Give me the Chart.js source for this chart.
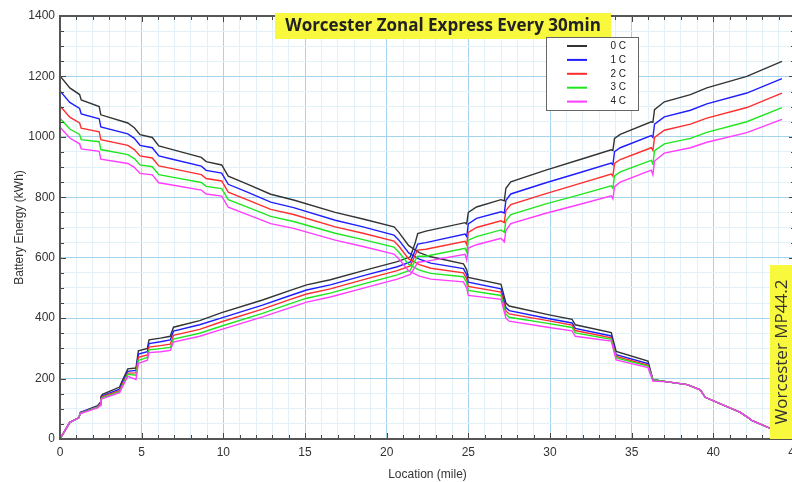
<!DOCTYPE html>
<html>
<head>
<meta charset="utf-8">
<script src="https://cdn.jsdelivr.net/npm/chart.js@4.4.1/dist/chart.umd.min.js"></script>
<style>
  html, body { margin: 0; padding: 0; background: #fff; overflow: hidden; }
  #wrap { width: 792px; height: 482px; overflow: hidden; position: relative; }
  #wrap canvas { position: absolute; left: 0; top: 0; }
</style>
</head>
<body>
<div id="wrap"><canvas id="chart" width="810" height="482"></canvas></div>
<script>
// miles for the outbound runs (energy going down)
const downMiles = [0, 0.6, 1.2, 1.3, 2.4, 2.5, 4.15, 4.55, 4.9, 5.65, 6.05, 6.95, 8.65, 8.95, 9.9, 10.3, 11.4, 12.9, 14.3, 16.85,
  18.55, 20.45, 20.75, 21.35, 22.0, 22.7, 24.7, 24.9, 25.0, 27.0, 27.3, 27.5, 29.95, 31.35, 31.55, 33.75, 34.05, 36.0, 36.3, 37.2,
  38.4, 39.2, 39.5, 41.65, 42.15, 42.35, 43.45, 44.2];
const down0C = [1202, 1162, 1140, 1122, 1100, 1073, 1046, 1030, 1007, 998, 970, 957, 932, 918, 907, 870, 845, 810, 791, 750,
  728, 702, 684, 640, 617, 603, 580, 560, 535, 512, 450, 440, 411, 396, 378, 352, 290, 258, 196, 189,
  180, 163, 138, 88, 70, 62, 36, 18];
const down1C = [1152, 1114, 1094, 1076, 1060, 1033, 1010, 995, 972, 964, 937, 925, 903, 889, 880, 843, 819, 784, 766, 724,
  702, 675, 658, 616, 595, 582, 564, 544, 519, 497, 435, 425, 398, 384, 366, 341, 279, 250, 196, 189,
  180, 163, 138, 88, 70, 62, 36, 18];
const down2C = [1102, 1065, 1046, 1029, 1017, 991, 972, 958, 937, 930, 904, 894, 875, 862, 854, 817, 793, 760, 743, 702,
  681, 655, 638, 596, 577, 565, 550, 530, 505, 486, 424, 414, 391, 377, 359, 335, 273, 245, 196, 189,
  180, 163, 138, 88, 70, 62, 36, 18];
const down3C = [1062, 1026, 1008, 991, 984, 958, 941, 928, 907, 901, 875, 866, 849, 836, 829, 792, 769, 737, 720, 681,
  660, 635, 618, 578, 559, 548, 537, 517, 492, 475, 413, 403, 382, 369, 351, 330, 268, 241, 196, 189,
  180, 163, 138, 88, 70, 62, 36, 18];
const down4C = [1032, 996, 977, 960, 952, 926, 912, 899, 879, 874, 848, 840, 824, 811, 804, 767, 744, 713, 697, 658,
  637, 612, 596, 556, 539, 529, 520, 500, 475, 462, 400, 390, 369, 358, 340, 324, 262, 236, 192, 189,
  180, 163, 138, 88, 70, 62, 36, 18];

// miles for the return runs (energy going up)
const upMiles = [0, 0.6, 1.15, 1.25, 2.3, 2.45, 2.5, 2.6, 3.65, 3.75, 4.15, 4.65, 4.8, 5.35, 5.45, 6.15, 6.75, 6.95, 8.55, 9.9,
  12.4, 14.1, 15.1, 16.55, 18.75, 20.65, 21.45, 21.75, 21.9, 22.4, 24.8, 24.9, 25.0, 25.5, 27.0, 27.2, 27.3, 27.6, 29.75, 31.85,
  33.75, 33.85, 33.95, 34.3, 36.2, 36.3, 36.4, 37.0, 38.6, 39.6, 42.05, 44.2];
const up0C = [0, 55, 70, 88, 110, 120, 140, 148, 172, 185, 232, 235, 292, 300, 328, 334, 340, 370, 392, 418,
  460, 492, 510, 527, 560, 587, 603, 650, 680, 688, 716, 712, 750, 768, 792, 788, 830, 851, 890, 925,
  957, 955, 995, 1008, 1050, 1048, 1090, 1116, 1140, 1162, 1200, 1250];
const up1C = [0, 55, 70, 88, 108, 117, 136, 143, 165, 178, 224, 227, 281, 289, 316, 322, 328, 357, 378, 401,
  443, 475, 493, 510, 543, 570, 586, 625, 645, 650, 678, 670, 712, 730, 752, 748, 790, 811, 848, 882,
  913, 908, 951, 964, 1004, 998, 1042, 1066, 1088, 1109, 1145, 1193];
const up2C = [0, 55, 70, 86, 106, 115, 133, 140, 160, 173, 218, 219, 270, 278, 304, 309, 314, 343, 363, 388,
  430, 462, 480, 497, 530, 557, 573, 610, 625, 628, 654, 644, 684, 700, 722, 716, 756, 776, 812, 846,
  877, 870, 912, 925, 964, 955, 998, 1022, 1042, 1062, 1097, 1145];
const up3C = [0, 55, 70, 85, 105, 113, 131, 137, 157, 169, 214, 211, 260, 270, 295, 299, 303, 331, 350, 374,
  416, 448, 466, 483, 516, 543, 559, 592, 605, 605, 631, 619, 658, 670, 692, 684, 722, 743, 778, 809,
  838, 830, 871, 884, 922, 910, 954, 977, 995, 1015, 1050, 1097];
const up4C = [0, 55, 70, 84, 103, 110, 128, 134, 153, 165, 207, 197, 250, 261, 286, 289, 293, 321, 340, 363,
  404, 435, 453, 470, 502, 529, 545, 570, 585, 588, 611, 592, 632, 643, 664, 652, 690, 713, 747, 777,
  805, 795, 835, 850, 890, 875, 920, 946, 964, 982, 1014, 1058];

const seriesLabels = ["0 C", "1 C", "2 C", "3 C", "4 C"];
const seriesColors = ["#333333", "#1e1eff", "#ff2e2e", "#1fe61f", "#ff3cff"];
const downValues = [down0C, down1C, down2C, down3C, down4C];
const upValues = [up0C, up1C, up2C, up3C, up4C];

const chartTitle = "Worcester Zonal Express Every 30min";
const endLabel = "Worcester MP44.2";

const datasets = [];
seriesLabels.forEach((label, i) => {
    const base = {
        label: label,
        borderColor: seriesColors[i],
        borderWidth: 1.4,
        pointRadius: 0,
        tension: 0,
        fill: false,
        order: 4 - i
    };
    datasets.push(Object.assign({}, base, { data: downMiles.map((m, j) => ({ x: m, y: downValues[i][j] })) }));
    datasets.push(Object.assign({}, base, { data: upMiles.map((m, j) => ({ x: m, y: upValues[i][j] })) }));
});

// ticks inside the frame, the frame, title box, legend and end label
const decorPlugin = {
    id: "decor",
    afterDraw(chart) {
        const c = chart.ctx;
        const a = chart.chartArea;
        const xs = chart.scales.x;
        const ys = chart.scales.y;
        c.save();

        c.strokeStyle = "#444";
        c.lineWidth = 1;
        c.beginPath();
        xs.ticks.forEach(t => {
            const px = Math.round(xs.getPixelForValue(t.value)) + 0.5;
            const len = t.value % 5 === 0 ? 6 : 4;
            c.moveTo(px, a.bottom); c.lineTo(px, a.bottom - len);
            c.moveTo(px, a.top); c.lineTo(px, a.top + len);
        });
        ys.ticks.forEach(t => {
            const py = Math.round(ys.getPixelForValue(t.value)) + 0.5;
            const len = t.value % 200 === 0 ? 6 : 4;
            c.moveTo(a.left, py); c.lineTo(a.left + len, py);
            c.moveTo(a.right, py); c.lineTo(a.right - len, py);
        });
        c.stroke();

        c.strokeStyle = "#555";
        c.lineWidth = 2;
        c.strokeRect(a.left, a.top, a.right - a.left, a.bottom - a.top);

        // title
        c.fillStyle = "#f8f83c";
        c.fillRect(275, 13, 336, 26);
        c.fillStyle = "#222";
        c.font = "bold 17px 'Open Sans'";
        c.textAlign = "center";
        c.textBaseline = "middle";
        c.fillText(chartTitle, 443, 26);

        // legend
        c.fillStyle = "#fff";
        c.fillRect(546, 37, 92, 73);
        c.strokeStyle = "#666";
        c.lineWidth = 1;
        c.strokeRect(546.5, 37.5, 92, 73);
        c.font = "10px 'Liberation Sans'";
        c.textAlign = "right";
        seriesLabels.forEach((label, i) => {
            const y = 46 + i * 13.9;
            c.strokeStyle = seriesColors[i];
            c.lineWidth = 2;
            c.beginPath();
            c.moveTo(567, y); c.lineTo(587, y);
            c.stroke();
            c.fillStyle = "#222";
            c.fillText(label, 626, y);
        });

        // end of line marker
        c.fillStyle = "#f8f83c";
        c.fillRect(770, 265, 40, a.bottom - 265);
        c.translate(782, 352);
        c.rotate(-Math.PI / 2);
        c.fillStyle = "#333";
        c.font = "17px 'Open Sans'";
        c.textAlign = "center";
        c.fillText(endLabel, 0, 0);
        c.restore();
    }
};

const majorGrid = "#a6d3ec";
const minorGrid = "#e2f0f8";
const axisFont = { family: "'Liberation Sans Narrow', 'Liberation Sans'", size: 12 };

new Chart(document.getElementById("chart"), {
    type: "line",
    data: { datasets: datasets },
    options: {
        responsive: false,
        animation: false,
        layout: { padding: { top: 16, right: 15, left: 0, bottom: 0 } },
        plugins: { legend: { display: false }, tooltip: { enabled: false } },
        scales: {
            x: {
                type: "linear",
                min: 0,
                max: 45,
                afterFit: s => { s.height = 43; },
                ticks: {
                    stepSize: 1,
                    autoSkip: false,
                    maxRotation: 0,
                    padding: 6,
                    color: "#333",
                    font: axisFont,
                    callback: v => (v % 5 === 0 ? v : "")
                },
                grid: {
                    drawTicks: false,
                    color: ctx => (ctx.tick && ctx.tick.value % 5 === 0 ? majorGrid : minorGrid)
                },
                border: { display: false },
                title: {
                    display: true,
                    text: "Location (mile)",
                    color: "#333",
                    padding: { top: 0, bottom: 0 },
                    font: axisFont
                }
            },
            y: {
                min: 0,
                max: 1400,
                afterFit: s => { s.width = 60; },
                ticks: {
                    stepSize: 50,
                    autoSkip: false,
                    padding: 5,
                    color: "#333",
                    font: axisFont,
                    callback: v => (v % 200 === 0 ? v : "")
                },
                grid: {
                    drawTicks: false,
                    color: ctx => (ctx.tick && ctx.tick.value % 200 === 0 ? majorGrid : minorGrid)
                },
                border: { display: false },
                title: {
                    display: true,
                    text: "Battery Energy (kWh)",
                    color: "#333",
                    padding: { top: 12, bottom: 0 },
                    font: axisFont
                }
            }
        }
    },
    plugins: [decorPlugin]
});
</script>
</body>
</html>
